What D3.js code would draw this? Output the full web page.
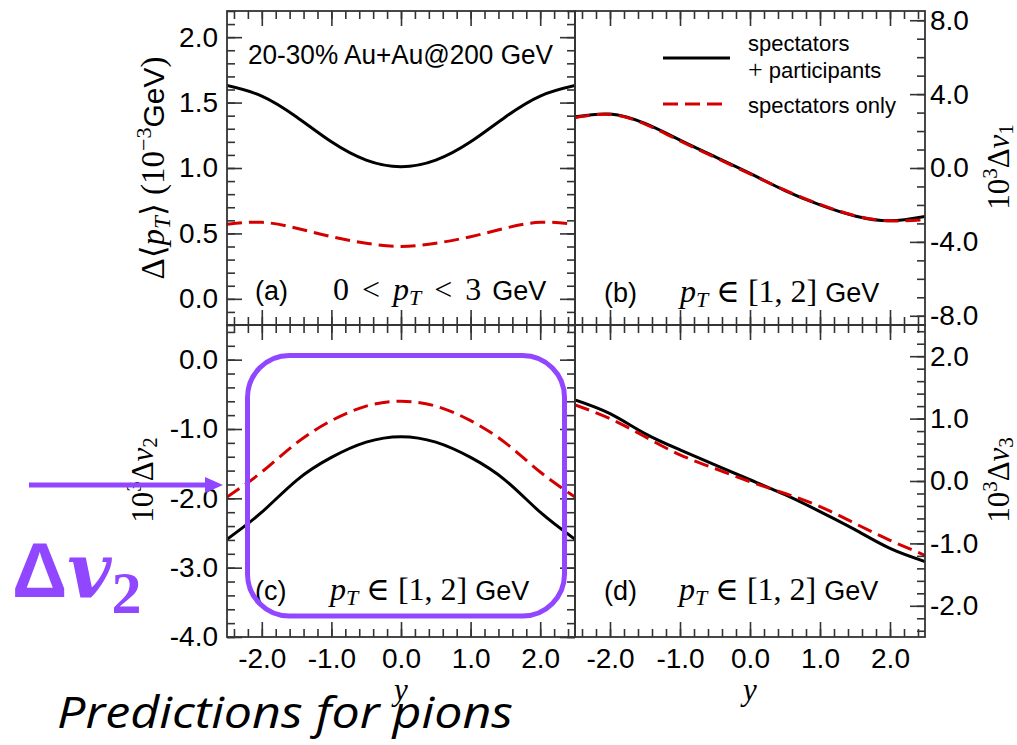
<!DOCTYPE html>
<html>
<head>
<meta charset="utf-8">
<script src="https://cdn.jsdelivr.net/npm/d3@7"></script>
<style>
  html, body { margin: 0; padding: 0; background: #fff; }
  svg { display: block; }
</style>
</head>
<body>
<svg id="chart" width="1017" height="745"></svg>
<script>
// Rapidity grid shared by all four panels
const rapidity = [-2.5, -2.0, -1.5, -1.0, -0.5, 0.0, 0.5, 1.0, 1.5, 2.0, 2.5];

// (a) Δ<pT> in 10^-3 GeV
const ptFull = [1.63, 1.55, 1.39, 1.20, 1.06, 1.01, 1.06, 1.20, 1.39, 1.55, 1.63];
const ptSpec = [0.57, 0.585, 0.54, 0.475, 0.425, 0.40, 0.425, 0.475, 0.54, 0.585, 0.57];
// (b) 10^3 Δv1
const v1Full = [2.77, 2.92, 2.41, 1.51, 0.61, -0.29, -1.22, -2.00, -2.60, -2.86, -2.63];
const v1Spec = [2.72, 2.90, 2.38, 1.47, 0.57, -0.32, -1.20, -1.97, -2.58, -2.86, -2.80];
// (c) 10^3 Δv2
const v2Full = [-2.59, -2.20, -1.74, -1.41, -1.19, -1.11, -1.19, -1.41, -1.74, -2.20, -2.59];
const v2Spec = [-1.98, -1.62, -1.20, -0.88, -0.67, -0.60, -0.67, -0.88, -1.20, -1.62, -1.98];
// (d) 10^3 Δv3
const v3Full = [1.30, 1.08, 0.76, 0.50, 0.26, 0.02, -0.22, -0.49, -0.78, -1.08, -1.29];
const v3Spec = [1.22, 1.00, 0.71, 0.42, 0.20, -0.01, -0.20, -0.41, -0.68, -0.95, -1.19];

// Tick labels
const xTicks = [-2, -1, 0, 1, 2];
const ptTicks = [0.0, 0.5, 1.0, 1.5, 2.0];
const v1Ticks = [-8, -4, 0, 4, 8];
const v2Ticks = [-4, -3, -2, -1, 0];
const v3Ticks = [-2, -1, 0, 1, 2];

const legendLabels = ["spectators", "+ participants", "spectators only"];

const BLACK = "#000";
const RED = "#d40000";
const PURPLE = "#9146ff";
const FRAME = "#333";

const fmt = d3.formatLocale({decimal: ".", thousands: ",", grouping: [3], currency: ["", ""], minus: "-"}).format(".1f");

const svg = d3.select("#chart");

// Panel frame geometry
const L = 227, M = 575, R = 925, T = 11, MID = 325, B = 637;

const xLeft = d3.scaleLinear([-2.5, 2.5], [L, M]);
const xRight = d3.scaleLinear([-2.5, 2.5], [M, R]);

const panels = [
  {id: "a", x: xLeft, y: d3.scaleLinear([-0.2, 2.2], [MID, T]), full: ptFull, spec: ptSpec,
   ticks: ptTicks, minorStep: 0.1, side: "left", xLabels: false},
  {id: "b", x: xRight, y: d3.scaleLinear([-8.5, 8.5], [MID, T]), full: v1Full, spec: v1Spec,
   ticks: v1Ticks, minorStep: 1.0, side: "right", xLabels: false},
  {id: "c", x: xLeft, y: d3.scaleLinear([-4.0, 0.5], [B, MID]), full: v2Full, spec: v2Spec,
   ticks: v2Ticks, minorStep: 0.2, side: "left", xLabels: true},
  {id: "d", x: xRight, y: d3.scaleLinear([-2.5, 2.5], [B, MID]), full: v3Full, spec: v3Spec,
   ticks: v3Ticks, minorStep: 0.2, side: "right", xLabels: true}
];

function steps(domain, step) {
  const out = [];
  const n0 = Math.ceil(domain[0] / step - 1e-9), n1 = Math.floor(domain[1] / step + 1e-9);
  for (let i = n0; i <= n1; i++) out.push(+(i * step).toFixed(6));
  return out;
}

const MAJ = 15, MIN = 8;
const tickFont = "'Liberation Sans', Arial, sans-serif";

function styleAxis(g, showText) {
  g.select(".domain").remove();
  g.selectAll(".tick line").attr("stroke", FRAME).attr("stroke-width", 1.6);
  g.selectAll(".tick text").attr("fill", "#000").style("font-family", tickFont).style("font-size", "28px");
  if (!showText) g.selectAll(".tick text").remove();
}

panels.forEach(p => {
  const g = svg.append("g");
  const [x0, x1] = p.x.range();
  const [y0, y1] = p.y.range(); // y0 bottom, y1 top

  // curves, clipped to the frame
  const clipId = "clip-" + p.id;
  svg.append("clipPath").attr("id", clipId)
    .append("rect").attr("x", x0).attr("y", y1).attr("width", x1 - x0).attr("height", y0 - y1);

  const line = d3.line().x((d, i) => p.x(rapidity[i])).y(d => p.y(d)).curve(d3.curveNatural);
  const cg = g.append("g").attr("clip-path", `url(#${clipId})`);
  cg.append("path").attr("d", line(p.full)).attr("fill", "none")
    .attr("stroke", BLACK).attr("stroke-width", 3);
  cg.append("path").attr("d", line(p.spec)).attr("fill", "none")
    .attr("stroke", RED).attr("stroke-width", 3).attr("stroke-dasharray", "15,7");

  // x ticks: top and bottom, pointing inward
  const xMinor = steps(p.x.domain(), 0.2);
  [["top", y1], ["bottom", y0]].forEach(([pos, yy]) => {
    const mk = pos === "top" ? d3.axisTop : d3.axisBottom;
    g.append("g").attr("transform", `translate(0,${yy})`)
      .call(mk(p.x).tickValues(xMinor).tickSize(-MIN).tickFormat(""))
      .call(a => styleAxis(a, false));
    g.append("g").attr("transform", `translate(0,${yy})`)
      .call(mk(p.x).tickValues(xTicks).tickSize(-MAJ).tickPadding(11).tickFormat(fmt))
      .call(a => styleAxis(a, pos === "bottom" && p.xLabels));
  });

  // y ticks
  const yMinor = steps(p.y.domain(), p.minorStep);
  if (p.side === "left") {
    g.append("g").attr("transform", `translate(${x0},0)`)
      .call(d3.axisLeft(p.y).tickValues(yMinor).tickSize(-MIN).tickFormat(""))
      .call(a => styleAxis(a, false));
    g.append("g").attr("transform", `translate(${x0},0)`)
      .call(d3.axisLeft(p.y).tickValues(p.ticks).tickSize(-MAJ).tickPadding(9).tickFormat(fmt))
      .call(a => styleAxis(a, true));
    g.append("g").attr("transform", `translate(${x1},0)`)
      .call(d3.axisRight(p.y).tickValues(yMinor).tickSize(-MIN).tickFormat(""))
      .call(a => styleAxis(a, false));
    g.append("g").attr("transform", `translate(${x1},0)`)
      .call(d3.axisRight(p.y).tickValues(p.ticks).tickSize(-MAJ).tickFormat(""))
      .call(a => styleAxis(a, false));
  } else {
    g.append("g").attr("transform", `translate(${x1},0)`)
      .call(d3.axisRight(p.y).tickValues(yMinor).tickSize(-MIN).tickFormat(""))
      .call(a => styleAxis(a, false));
    g.append("g").attr("transform", `translate(${x1},0)`)
      .call(d3.axisRight(p.y).tickValues(p.ticks).tickSize(-MAJ).tickPadding(5).tickFormat(fmt))
      .call(a => styleAxis(a, true));
  }

  // frame
  g.append("rect").attr("x", x0).attr("y", y1).attr("width", x1 - x0).attr("height", y0 - y1)
    .attr("fill", "none").attr("stroke", FRAME).attr("stroke-width", 1.8);
});

// Rich text helper: parts = [{t, font, size, style, weight, dy, dx}]
const SERIF = "'Liberation Serif', 'DejaVu Serif', serif";
const SANS = "'Liberation Sans', Arial, sans-serif";
function rich(parent, x, y, parts, opts = {}) {
  const t = parent.append("text").attr("x", x).attr("y", y).attr("fill", opts.fill || "#000");
  if (opts.anchor) t.attr("text-anchor", opts.anchor);
  if (opts.transform) t.attr("transform", opts.transform);
  parts.forEach(p => {
    const s = t.append("tspan").text(p.t)
      .style("font-family", p.font || SERIF)
      .style("font-size", (p.size || 27) + "px");
    if (p.style) s.style("font-style", p.style);
    if (p.weight) s.style("font-weight", p.weight);
    if (p.dy) s.attr("dy", p.dy);
    if (p.dx) s.attr("dx", p.dx);
  });
  return t;
}

// pT range annotations
function ptRange() {
  return [
    {t: "p", style: "italic", size: 32},
    {t: "T", style: "italic", size: 22, dy: 5},
    {t: " ∈ [1, 2] ", size: 32, dy: -5},
    {t: "GeV", font: SANS, size: 27}
  ];
}
rich(svg, 255, 300, [{t: "(a)", font: SANS, size: 27}]);
rich(svg, 333, 300, [
  {t: "0", size: 32},
  {t: "<", size: 32, dx: 13},
  {t: "p", style: "italic", size: 32, dx: 13},
  {t: "T", style: "italic", size: 22, dy: 5},
  {t: "<", size: 32, dy: -5, dx: 13},
  {t: "3", size: 32, dx: 13},
  {t: "GeV", font: SANS, size: 27, dx: 11}
]);
rich(svg, 604, 302, [{t: "(b)", font: SANS, size: 27}]);
rich(svg, 680, 302, ptRange());
rich(svg, 255, 600, [{t: "(c)", font: SANS, size: 27}]);
rich(svg, 330, 600, ptRange());
rich(svg, 604, 600, [{t: "(d)", font: SANS, size: 27}]);
rich(svg, 679, 600, ptRange());

// collision system
svg.append("text").attr("x", 248).attr("y", 64).text("20-30% Au+Au@200 GeV")
  .style("font-family", SANS).style("font-size", "27px").attr("textLength", 305).attr("lengthAdjust", "spacingAndGlyphs");

// legend
svg.append("line").attr("x1", 663).attr("x2", 730).attr("y1", 58).attr("y2", 58)
  .attr("stroke", BLACK).attr("stroke-width", 3);
svg.append("line").attr("x1", 663).attr("x2", 729).attr("y1", 104).attr("y2", 104)
  .attr("stroke", RED).attr("stroke-width", 3).attr("stroke-dasharray", "15,7");
rich(svg, 748, 51, [{t: legendLabels[0], font: SANS, size: 22}]);
rich(svg, 748, 78, [{t: "+", size: 26}, {t: " participants", font: SANS, size: 22}]);
rich(svg, 748, 113, [{t: legendLabels[2], font: SANS, size: 22}]);

// axis titles
rich(svg, 0, 0, [
  {t: "Δ⟨", size: 33},
  {t: "p", style: "italic", size: 33},
  {t: "T", style: "italic", size: 23, dy: 6},
  {t: "⟩ (10", size: 33, dy: -6},
  {t: "−3", size: 22, dy: -13},
  {t: "GeV", font: SANS, size: 30, dy: 13},
  {t: ")", size: 33}
], {anchor: "middle", transform: "translate(164,168) rotate(-90)"});

function vnLabel(n, cx, cy) {
  rich(svg, 0, 0, [
    {t: "10", size: 31},
    {t: "3", size: 21, dy: -12},
    {t: "Δ", size: 31, dy: 12},
    {t: "v", style: "italic", size: 31},
    {t: String(n), size: 21, dy: 4}
  ], {anchor: "middle", transform: `translate(${cx},${cy}) rotate(-90)`});
}
vnLabel(2, 153, 480);
vnLabel(1, 1009, 167);
vnLabel(3, 1009, 480);

[401, 750].forEach(cx => {
  svg.append("text").attr("x", cx).attr("y", 700).attr("text-anchor", "middle").text("y")
    .style("font-family", SERIF).style("font-style", "italic").style("font-size", "31px");
});

// highlight around the Δv2 curves
svg.append("rect").attr("x", 247.5).attr("y", 355.5).attr("width", 564.5 - 247.5).attr("height", 616 - 355.5)
  .attr("rx", 42).attr("ry", 42).attr("fill", "none").attr("stroke", PURPLE).attr("stroke-width", 5);

// arrow pointing at the Δv2 axis
svg.append("line").attr("x1", 29).attr("x2", 209).attr("y1", 485).attr("y2", 485)
  .attr("stroke", PURPLE).attr("stroke-width", 5);
svg.append("path").attr("d", "M223,485 L205,477 L205,493 Z").attr("fill", PURPLE);

// Δv2 callout
rich(svg, 12, 597, [
  {t: "Δ", font: SANS, size: 77, weight: "bold"},
  {t: "v", font: "'DejaVu Serif', serif", size: 76, weight: "bold", style: "italic"},
  {t: "2", font: SERIF, size: 60, weight: "bold", dy: 16}
], {fill: PURPLE});

svg.append("text").attr("x", 57).attr("y", 728).text("Predictions for pions")
  .style("font-family", "'Open Sans', sans-serif").style("font-style", "italic").style("font-size", "43px")
  .attr("textLength", 456).attr("lengthAdjust", "spacingAndGlyphs");
</script>
</body>
</html>
